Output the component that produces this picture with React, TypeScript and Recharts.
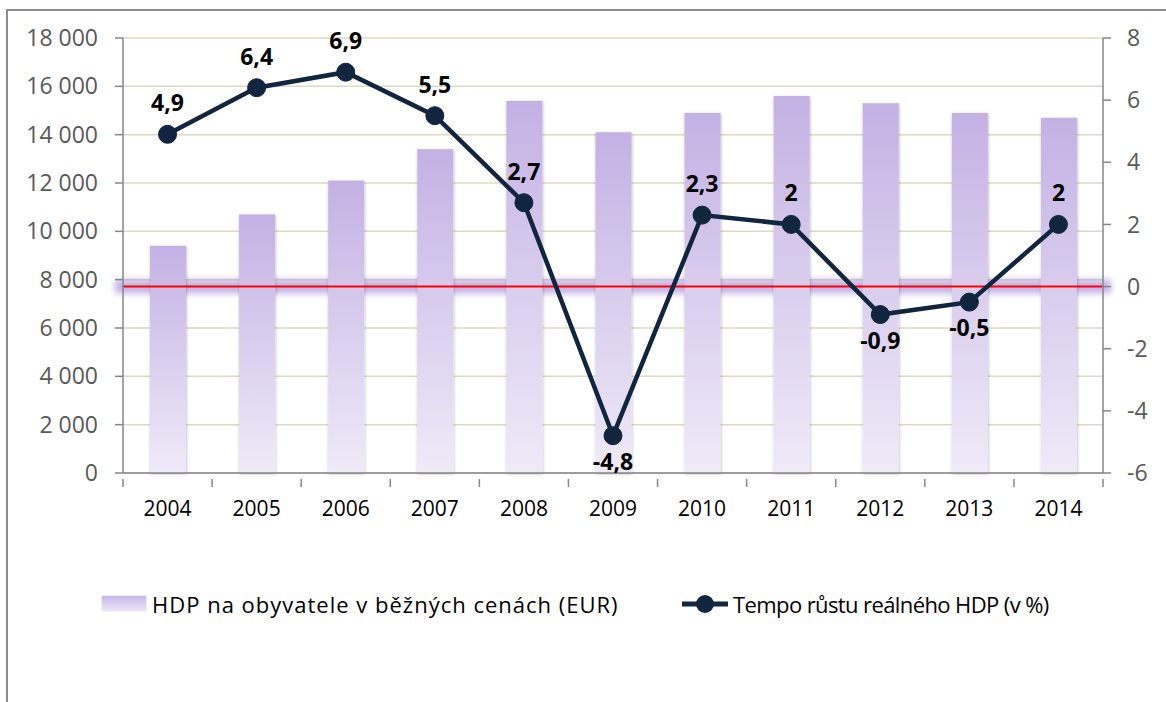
import React from 'react';
import {
  ComposedChart,
  Bar,
  Line,
  XAxis,
  YAxis,
  CartesianGrid,
  ReferenceLine,
  ReferenceArea,
  LabelList,
} from 'recharts';

const years = ['2004', '2005', '2006', '2007', '2008', '2009', '2010', '2011', '2012', '2013', '2014'];
const gdpPerCapita = [9400, 10700, 12100, 13400, 15400, 14100, 14900, 15600, 15300, 14900, 14700];
const realGrowth = [4.9, 6.4, 6.9, 5.5, 2.7, -4.8, 2.3, 2, -0.9, -0.5, 2];
const leftTicks = [0, 2000, 4000, 6000, 8000, 10000, 12000, 14000, 16000, 18000];
const rightTicks = [-6, -4, -2, 0, 2, 4, 6, 8];
const barName = 'HDP na obyvatele v běžných cenách (EUR)';
const lineName = 'Tempo růstu reálného HDP (v %)';

const data = years.map((y, i) => ({ year: y, gdp: gdpPerCapita[i], growth: realGrowth[i] }));

const W = 1166;
const H = 702;
const M = { top: 38, right: 0, bottom: 0, left: 0 };
const LEFT_W = 123;
const RIGHT_W = 63;
const XAXIS_H = 229;
const PLOT_W = W - LEFT_W - RIGHT_W;
const BAND = PLOT_W / years.length;

const NAVY = '#11253f';
const AXIS = '#868686';
const FONT = '"Open Sans", "Noto Sans", sans-serif';

const fmtThousands = (v: number) => String(v).replace(/\B(?=(\d{3})+(?!\d))/g, '\u00a0');

const XTick = (props: any) => {
  const { x, y, payload, index } = props;
  const axisY = y;
  return (
    <g>
      <line x1={x - BAND / 2} y1={axisY} x2={x - BAND / 2} y2={axisY + 8} stroke={AXIS} strokeWidth={1.5} />
      {index === years.length - 1 && (
        <line x1={x + BAND / 2} y1={axisY} x2={x + BAND / 2} y2={axisY + 8} stroke={AXIS} strokeWidth={1.5} />
      )}
      <text x={x} y={axisY + 29} textAnchor="middle" dominantBaseline="central" fontSize={21} fill="#000" fontFamily={FONT}>
        {payload.value}
      </text>
    </g>
  );
};

const GrowthLabel = (props: any) => {
  const { x, y, value } = props;
  const below = value < 0;
  return (
    <text
      x={x}
      y={below ? y + 25 : y - 32}
      textAnchor="middle"
      dominantBaseline="central"
      fontSize={23}
      fontWeight={700}
      fill="#000"
      fontFamily={FONT}
    >
      {String(value).replace('.', ',')}
    </text>
  );
};

const BarShape = (props: any) => {
  const { x, y, width, height } = props;
  return <rect x={x} y={y} width={width} height={height} fill="url(#barGrad)" filter="url(#barShadow)" />;
};

const GlowShape = (props: any) => {
  const { x, y, width, height } = props;
  return (
    <rect x={x - 8} y={y} width={width + 16} height={height} fill="#9d7fd6" fillOpacity={0.6} filter="url(#glow)" />
  );
};

export default function App() {
  return (
    <div style={{ position: 'absolute', left: 0, top: 0, width: W, height: H, overflow: 'hidden', background: '#fff' }}>
      <div
        style={{
          position: 'absolute',
          left: 6,
          top: 9,
          width: W + 20,
          height: H + 20,
          borderTop: '2px solid #8c8c8c',
          borderLeft: '2px solid #8c8c8c',
        }}
      />
      <div style={{ position: 'absolute', left: 0, top: 0 }}>
        <ComposedChart width={W} height={H} data={data} margin={M}>
          <defs>
            <linearGradient id="barGrad" x1="0" y1="0" x2="0" y2="1">
              <stop offset="0%" stopColor="#c4b1e4" />
              <stop offset="100%" stopColor="#efeaf8" />
            </linearGradient>
            <filter id="barShadow" x="-30%" y="-5%" width="160%" height="110%">
              <feDropShadow dx="0.5" dy="1" stdDeviation="1.5" floodColor="#000" floodOpacity="0.28" />
            </filter>
            <filter id="glow" x="-5%" y="-200%" width="110%" height="500%">
              <feGaussianBlur stdDeviation="3" />
            </filter>
          </defs>
          <CartesianGrid yAxisId="left" vertical={false} stroke="#ddd9c3" strokeWidth={1.5} />
          <XAxis
            dataKey="year"
            height={XAXIS_H}
            stroke={AXIS}
            strokeWidth={1.5}
            tickLine={false}
            tick={<XTick />}
            tickMargin={0}
            interval={0}
          />
          <YAxis
            yAxisId="left"
            orientation="left"
            width={LEFT_W}
            domain={[0, 18000]}
            ticks={leftTicks}
            tickFormatter={fmtThousands}
            stroke={AXIS}
            strokeWidth={1.5}
            tickSize={8}
            tickMargin={17}
            tick={{ fill: '#595959', fontSize: 23, fontFamily: FONT }}
            interval={0}
          />
          <YAxis
            yAxisId="right"
            orientation="right"
            width={RIGHT_W}
            domain={[-6, 8]}
            ticks={rightTicks}
            stroke={AXIS}
            strokeWidth={1.5}
            tickSize={8}
            tickMargin={16}
            tick={{ fill: '#595959', fontSize: 23, fontFamily: FONT }}
            interval={0}
          />
          <Bar yAxisId="left" dataKey="gdp" name={barName} barSize={36} shape={<BarShape />} isAnimationActive={false} />
          <ReferenceArea yAxisId="right" y1={-0.22} y2={0.22} shape={<GlowShape />} ifOverflow="visible" />
          <ReferenceLine yAxisId="right" y={0} stroke="#ff0000" strokeWidth={2} />
          <Line
            yAxisId="right"
            dataKey="growth"
            name={lineName}
            stroke={NAVY}
            strokeWidth={4.5}
            dot={{ r: 9, fill: NAVY, stroke: NAVY, strokeWidth: 1 }}
            activeDot={false}
            isAnimationActive={false}
          >
            <LabelList dataKey="growth" content={<GrowthLabel />} />
          </Line>
        </ComposedChart>
      </div>
      <div
        style={{
          position: 'absolute',
          left: 0,
          top: 589,
          width: W,
          height: 30,
          fontFamily: FONT,
          fontSize: 22,
          color: '#000',
        }}
      >
        <div
          style={{
            position: 'absolute',
            left: 102,
            top: 7,
            width: 44,
            height: 15,
            background: 'linear-gradient(#c8b6e8, #ece6f7)',
            boxShadow: '0 0 1px rgba(0,0,0,0.35)',
          }}
        />
        <div style={{ position: 'absolute', left: 152, top: 0, lineHeight: '30px', whiteSpace: 'nowrap', letterSpacing: 1 }}>
          {barName}
        </div>
        <svg style={{ position: 'absolute', left: 680, top: 0 }} width={50} height={30}>
          <line x1={2} y1={15} x2={48} y2={15} stroke={NAVY} strokeWidth={5} />
          <circle cx={25} cy={15} r={9} fill={NAVY} />
        </svg>
        <div style={{ position: 'absolute', left: 733, top: 0, lineHeight: '30px', whiteSpace: 'nowrap', letterSpacing: -0.6 }}>
          {lineName}
        </div>
      </div>
    </div>
  );
}
